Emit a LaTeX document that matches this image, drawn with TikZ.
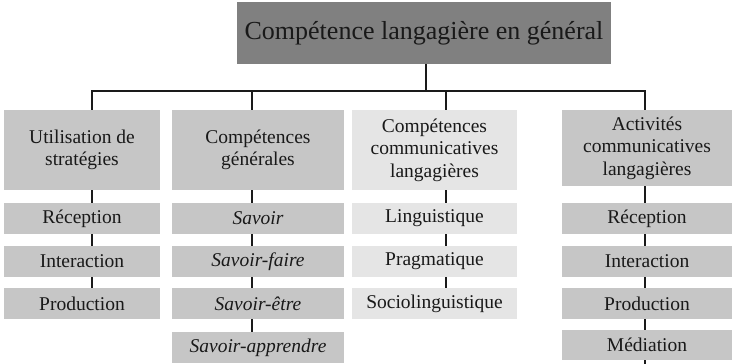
\documentclass[tikz,border=0pt]{standalone}
\usepackage{fontspec}
\setmainfont{Liberation Serif}
\usetikzlibrary{backgrounds}
\definecolor{titlegray}{HTML}{808080}
\definecolor{midgray}{HTML}{C6C6C6}
\definecolor{lightgray2}{HTML}{E5E5E5}
\definecolor{linecol}{HTML}{1A1A1A}
\tikzset{
  box/.style={rectangle, inner sep=0pt, align=center, text=black!90,
    font=\fontsize{19.5}{22.5}\selectfont},
  mid/.style={box, fill=midgray},
  light/.style={box, fill=lightgray2},
  link/.style={draw=linecol, line width=2.6pt},
  bus/.style={draw=linecol, line width=2pt},
}
\begin{document}
\begin{tikzpicture}[x=1pt,y=-1pt]
\useasboundingbox (0,0) rectangle (737,364);
% title
\node[box, fill=titlegray, minimum width=374pt, minimum height=62pt,
  font=\fontsize{26}{30}\selectfont] (title) at (424,33) {Compétence langagière en général};
% column 1
\node[mid, minimum width=156pt, minimum height=80pt] (h1) at (82,150) {Utilisation de\\stratégies};
\node[mid, minimum width=156pt, minimum height=31pt] (r1) at (82,218.5) {Réception};
\node[mid, minimum width=156pt, minimum height=31pt] (i1) at (82,261.5) {Interaction};
\node[mid, minimum width=156pt, minimum height=31pt] (p1) at (82,303.5) {Production};
% column 2
\node[mid, minimum width=172pt, minimum height=80pt] (h2) at (258,150) {Compétences\\générales};
\node[mid, minimum width=172pt, minimum height=31pt] (s2) at (258,218.5) {\itshape Savoir};
\node[mid, minimum width=172pt, minimum height=31pt] (f2) at (258,261.5) {\itshape Savoir-faire};
\node[mid, minimum width=172pt, minimum height=31pt] (e2) at (258,303.5) {\itshape Savoir-être};
\node[mid, minimum width=172pt, minimum height=31pt] (a2) at (258,347.5) {\itshape Savoir-apprendre};
% column 3
\node[light, minimum width=165pt, minimum height=80pt] (h3) at (434.5,150) {Compétences\\communicatives\\langagières};
\node[light, minimum width=165pt, minimum height=31pt] (l3) at (434.5,218.5) {Linguistique};
\node[light, minimum width=165pt, minimum height=31pt] (g3) at (434.5,261.5) {Pragmatique};
\node[light, minimum width=165pt, minimum height=31pt] (s3) at (434.5,303.5) {Sociolinguistique};
% column 4
\node[mid, minimum width=170pt, minimum height=76pt] (h4) at (647,148) {Activités\\communicatives\\langagières};
\node[mid, minimum width=170pt, minimum height=31pt] (r4) at (647,218.5) {Réception};
\node[mid, minimum width=170pt, minimum height=31pt] (i4) at (647,261.5) {Interaction};
\node[mid, minimum width=170pt, minimum height=31pt] (p4) at (647,303.5) {Production};
\node[mid, minimum width=170pt, minimum height=30pt] (m4) at (647,345) {Médiation};
% bus coordinates
\coordinate (b1) at (92,91);
\coordinate (b2) at (252,91);
\coordinate (b3) at (446,91);
\coordinate (b4) at (645,91);
\coordinate (bt) at (426,91);
\coordinate (end4) at (645,364);
\begin{scope}[on background layer]
\draw[bus] (h1.north -| b1) -- (b1) -- (b4) -- (h4.north -| b4);
\draw[link] (title.south -| bt) -- (bt);
\draw[link] (h2.north -| b2) -- (b2);
\draw[link] (h3.north -| b3) -- (b3);
\draw[link] (h1.south -| b1) -- (p1.north -| b1);
\draw[link] (h2.south -| b2) -- (a2.north -| b2);
\draw[link] (h3.south -| b3) -- (s3.north -| b3);
\draw[link] (h4.south -| b4) -- (m4.north -| b4);
\draw[link] (m4.south -| b4) -- (end4);
\end{scope}
\end{tikzpicture}
\end{document}
